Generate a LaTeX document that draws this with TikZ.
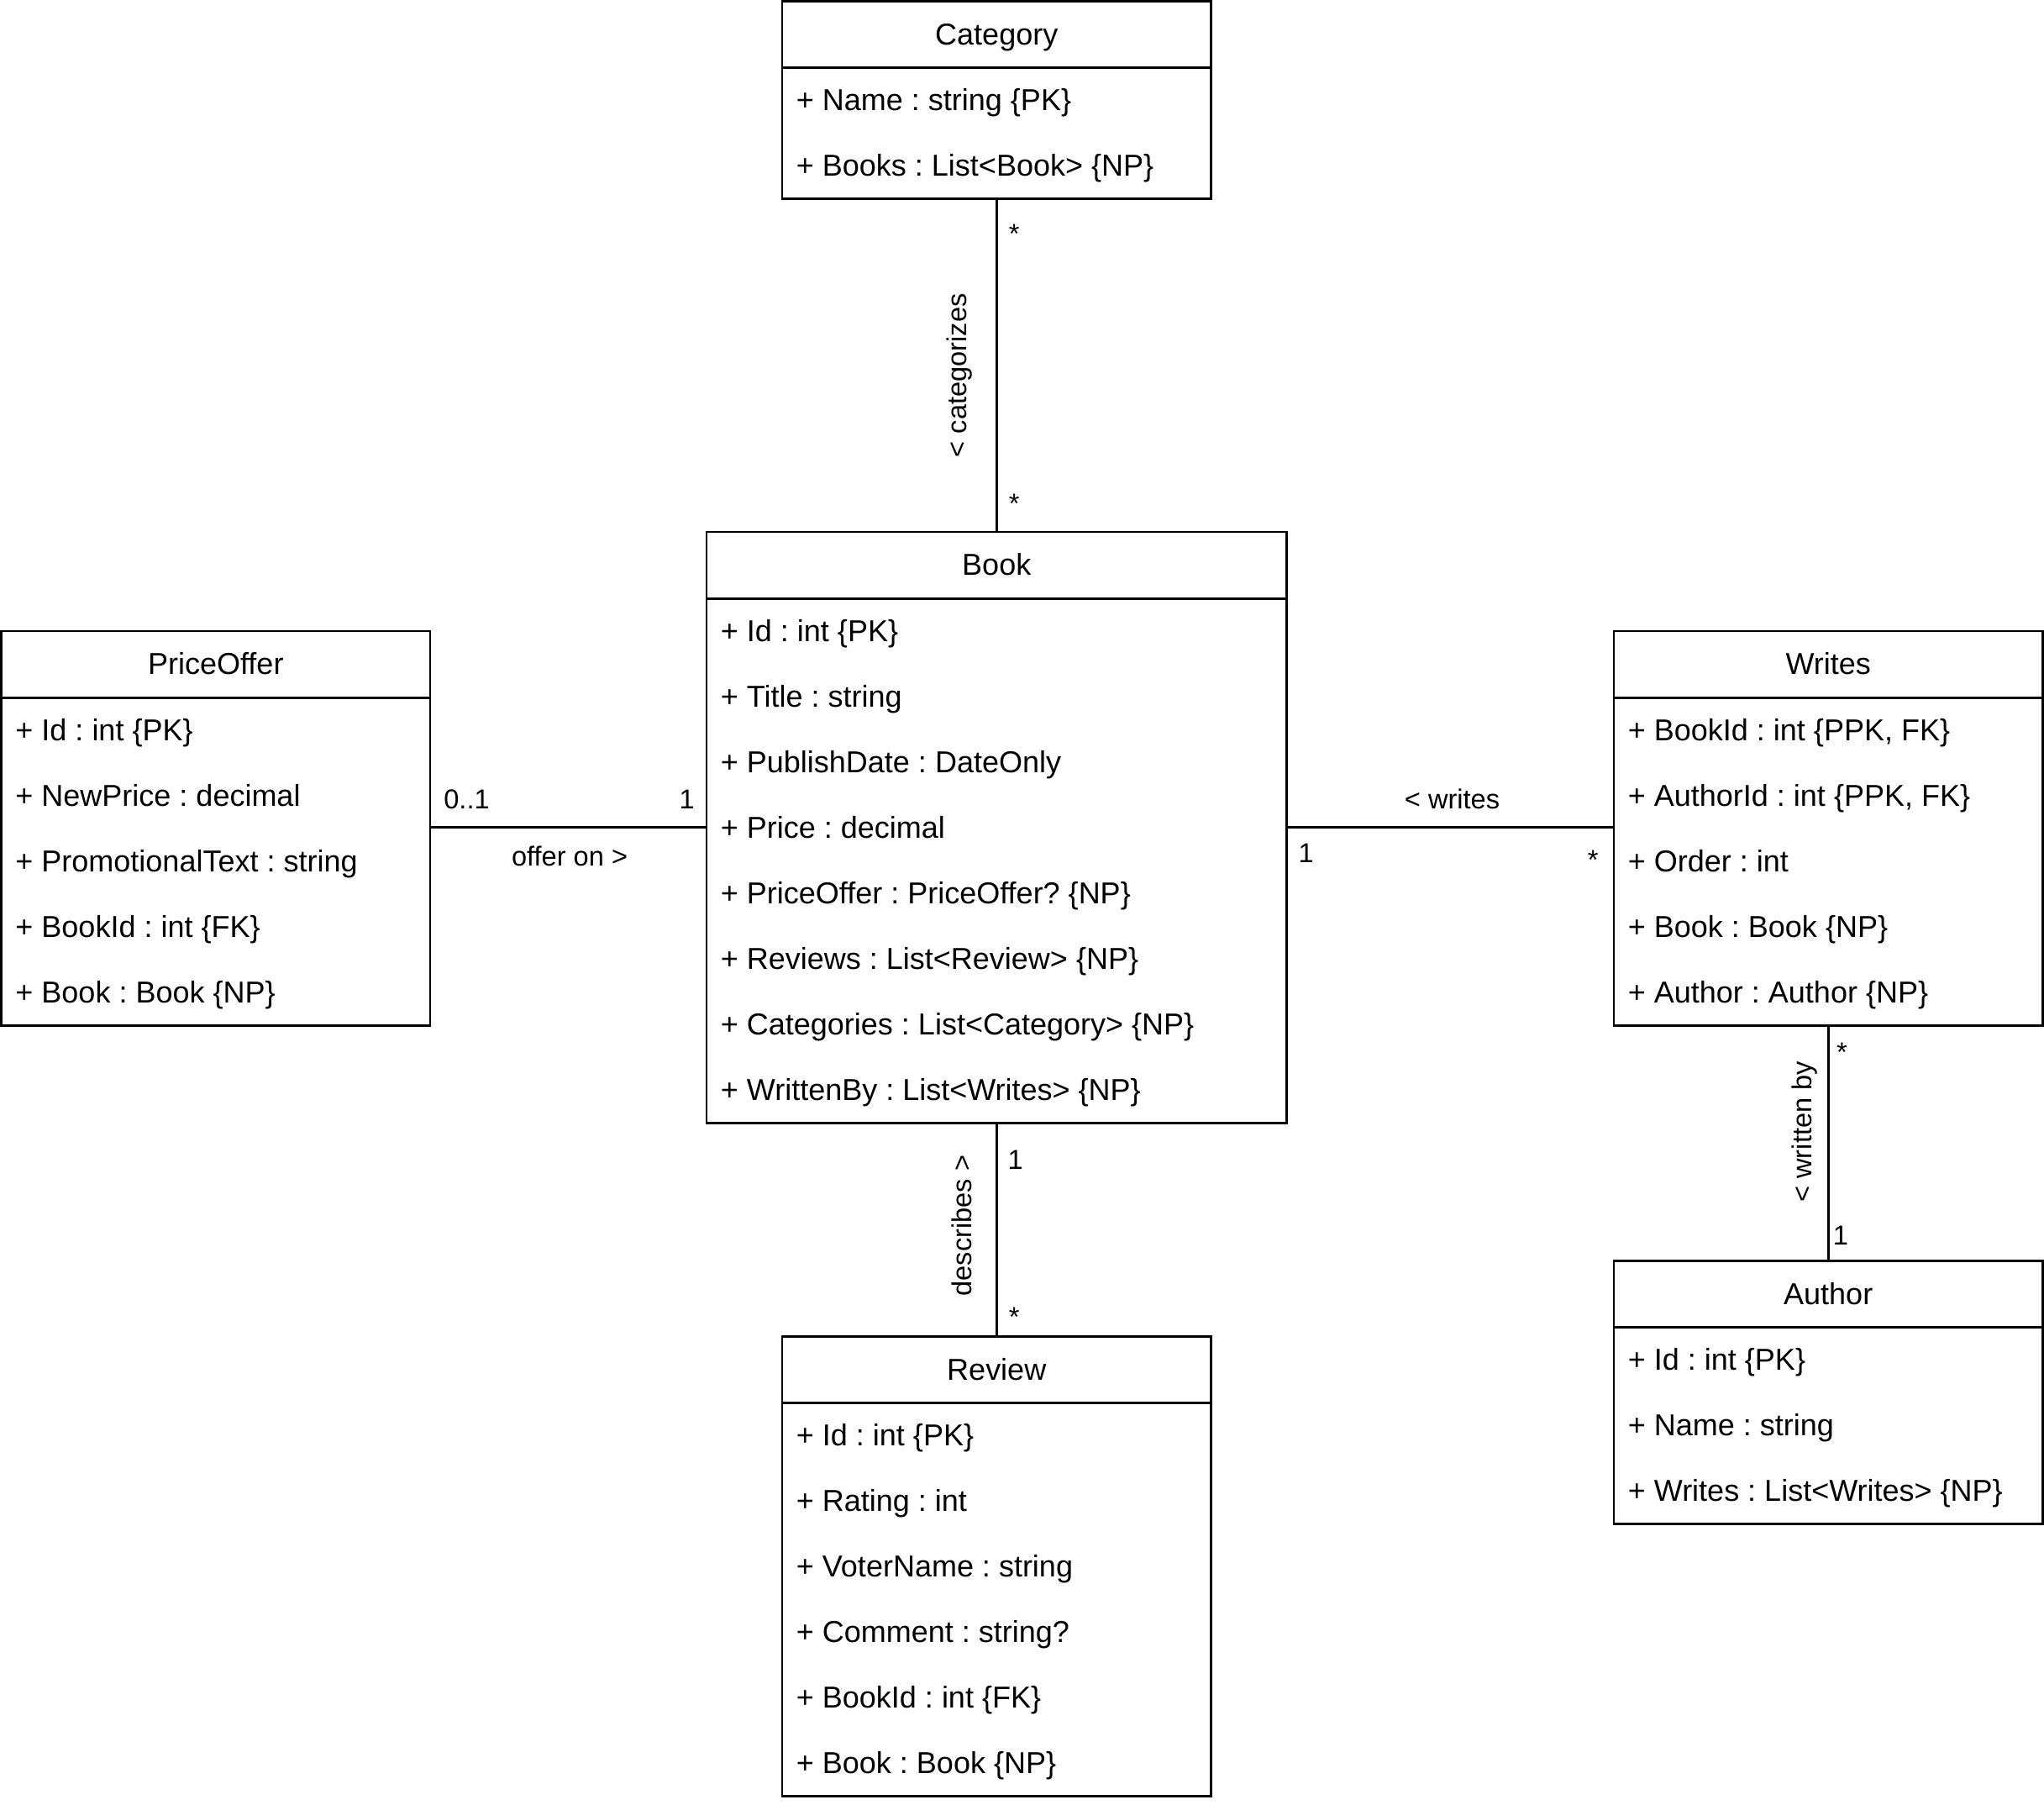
\documentclass[tikz,border=0pt]{standalone}
\usepackage{fontspec}
\setmainfont{Liberation Sans}
\usetikzlibrary{fit}
\frenchspacing

% UML class box: name, left, top, right, bottom, title, attribute rows
\newcommand\umlclass[7]{%
  \node[cls, fit={(#2,#3) (#4,#5)}] (#1) {};
  \draw (#2,{#3+51}) -- (#4,{#3+51});
  \node[ttl] (#1-title) at ({(#2+#4)/2},{#3+25}) {#6};
  \foreach \rowtext [count=\i] in {#7}
    \node[attr] (#1-row\i) at ({#2+10},{#3+50.5+(\i-0.5)*50.3}) {\rowtext};
}

\begin{document}
\frenchspacing
\begin{tikzpicture}[x=0.5pt, y=-0.5pt, line width=0.9pt,
  cls/.style={draw, inner sep=0pt, line width=0.9pt},
  ttl/.style={font=\fontsize{11.6pt}{14pt}\selectfont, inner sep=0pt,
              text height=8.3pt, text depth=0pt, anchor=center},
  attr/.style={ttl, anchor=west},
  lbl/.style={font=\fontsize{10.5pt}{13pt}\selectfont, inner sep=0pt,
              text height=7.5pt, text depth=0pt},
  mult/.style={lbl},
  star/.style={lbl, yshift=-2pt},
  assoc/.style={line width=0.9pt}]

\useasboundingbox (0,0) rectangle (1568,1384);

% classes
\umlclass{cat}{600}{1}{929}{152.6}{Category}
  {{+ Name : string \{PK\}}, {+ Books : List<Book> \{NP\}}}
\umlclass{book}{542}{408}{987}{861.4}{Book}
  {{+ Id : int \{PK\}}, {+ Title : string}, {+ PublishDate : DateOnly},
   {+ Price : decimal}, {+ PriceOffer : PriceOffer? \{NP\}},
   {+ Reviews : List<Review> \{NP\}}, {+ Categories : List<Category> \{NP\}},
   {+ WrittenBy : List<Writes> \{NP\}}}
\umlclass{po}{1}{484}{330}{786.5}{PriceOffer}
  {{+ Id : int \{PK\}}, {+ NewPrice : decimal}, {+ PromotionalText : string},
   {+ BookId : int \{FK\}}, {+ Book : Book \{NP\}}}
\umlclass{writes}{1238}{484}{1567}{786.5}{Writes}
  {{+ BookId : int \{PPK, FK\}}, {+ AuthorId : int \{PPK, FK\}}, {+ Order : int},
   {+ Book : Book \{NP\}}, {+ Author : Author \{NP\}}}
\umlclass{author}{1238}{967}{1567}{1168.9}{Author}
  {{+ Id : int \{PK\}}, {+ Name : string}, {+ Writes : List<Writes> \{NP\}}}
\umlclass{review}{600}{1025}{929}{1377.8}{Review}
  {{+ Id : int \{PK\}}, {+ Rating : int}, {+ VoterName : string},
   {+ Comment : string?}, {+ BookId : int \{FK\}}, {+ Book : Book \{NP\}}}

% associations (kept straight by projecting onto the partner's side)
\draw[assoc] (cat.south) -- (book.north);
\draw[assoc] (book.west) -- (book.west -| po.east);
\draw[assoc] (book.east) -- (book.east -| writes.west);
\draw[assoc] (book.south) -- (review.north);
\draw[assoc] (writes.south) -- (author.north);

% Category -- Book
\node[star] (m-cat1) at (778,175) {*};
\node[star] (m-cat2) at (778,382) {*};
\node[lbl, rotate=90] (l-cat) at (734,288) {< categorizes};

% PriceOffer -- Book
\node[mult] (m-po1) at (358,613) {0..1};
\node[mult] (m-po2) at (527,613) {1};
\node[lbl] (l-po) at (437,656.5) {offer on >};

% Book -- Writes
\node[lbl] (l-wr) at (1114,613) {< writes};
\node[mult] (m-wr1) at (1002,654) {1};
\node[star] (m-wr2) at (1222,655) {*};

% Book -- Review
\node[mult] (m-rv1) at (779,889) {1};
\node[star] (m-rv2) at (778,1006) {*};
\node[lbl, rotate=90] (l-rv) at (737.5,940) {describes >};

% Writes -- Author
\node[star] (m-au1) at (1413,803) {*};
\node[mult] (m-au2) at (1412,947) {1};
\node[lbl, rotate=90] (l-au) at (1382.5,868) {< written by};
\end{tikzpicture}
\end{document}
